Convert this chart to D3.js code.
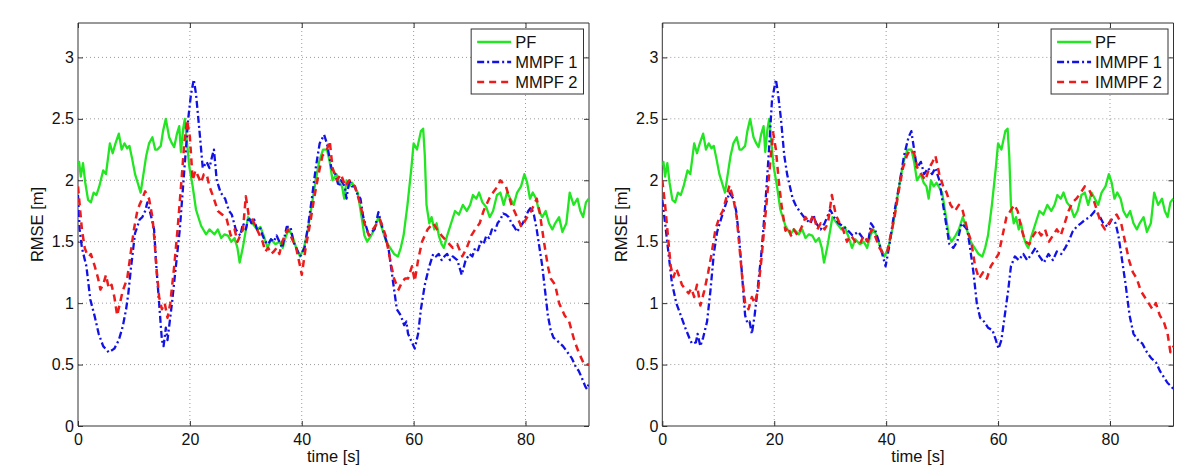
<!DOCTYPE html>
<html>
<head>
<meta charset="utf-8">
<script src="https://cdn.jsdelivr.net/npm/d3@7"></script>
<style>
  html, body { margin: 0; padding: 0; background: #fff; }
  svg { display: block; }
  text { font-family: "Liberation Sans", Arial, Helvetica, sans-serif; fill: #111; }
</style>
</head>
<body>
<svg id="chart" width="1200" height="476"></svg>
<script>
// ---------------- data (time [s], RMSE [m]) ----------------
const xTicks = [0, 20, 40, 60, 80];
const yTicks = [0, 0.5, 1, 1.5, 2, 2.5, 3];
const yTickLabels = ["0", "0.5", "1", "1.5", "2", "2.5", "3"];
const xLabel = "time [s]";
const yLabel = "RMSE [m]";
const leftLabels = ["PF", "MMPF 1", "MMPF 2"];
const rightLabels = ["PF", "IMMPF 1", "IMMPF 2"];

const pf = [[0,2.12],[0.2,2.15],[0.5,2.03],[0.9,2.14],[1.3,1.98],[1.8,1.84],[2.3,1.82],[2.8,1.9],[3.3,1.88],[3.8,1.95],[4.5,2.08],[5,2.05],[5.7,2.3],[6.2,2.22],[6.7,2.3],[7.3,2.38],[7.8,2.25],[8.3,2.3],[8.8,2.26],[9.2,2.28],[9.7,2.17],[10.2,2.05],[10.6,1.99],[11.2,1.9],[11.8,2.08],[12.2,2.2],[12.7,2.3],[13.3,2.35],[13.8,2.25],[14.2,2.25],[14.8,2.28],[15.2,2.4],[15.7,2.5],[16.3,2.35],[16.8,2.3],[17.2,2.27],[17.7,2.38],[18.1,2.44],[18.4,2.23],[18.8,2.42],[19.1,2.5],[19.5,2.3],[19.9,2.11],[20.5,1.95],[21.1,1.76],[22,1.63],[22.9,1.56],[23.5,1.6],[24.4,1.56],[25,1.6],[25.6,1.53],[26.2,1.56],[26.8,1.55],[27.4,1.5],[28,1.53],[28.5,1.45],[28.9,1.33],[29.5,1.46],[30.4,1.7],[31.2,1.65],[32,1.6],[32.6,1.62],[33.2,1.55],[33.9,1.45],[34.5,1.52],[35.3,1.48],[36,1.5],[36.6,1.45],[37.2,1.55],[37.7,1.6],[38.3,1.55],[39,1.45],[39.7,1.38],[40.4,1.45],[41.1,1.6],[41.8,1.8],[42.5,2.0],[43.1,2.15],[43.8,2.25],[44.5,2.25],[45,2.15],[45.5,2.0],[46.2,2.05],[46.7,1.98],[47.2,1.95],[47.6,1.85],[48,2.0],[48.5,1.95],[49,1.98],[50,1.9],[50.7,1.7],[51.2,1.55],[51.7,1.5],[52.4,1.55],[53,1.6],[53.7,1.7],[54.4,1.6],[55.1,1.5],[55.8,1.45],[56.5,1.4],[57.2,1.38],[57.7,1.45],[58.2,1.55],[58.9,1.8],[59.6,2.1],[60,2.3],[60.6,2.25],[61.3,2.4],[61.7,2.42],[62,2.2],[62.3,1.8],[62.8,1.65],[63.2,1.7],[63.7,1.6],[64.1,1.65],[64.5,1.55],[65,1.48],[65.4,1.45],[66,1.55],[66.7,1.65],[67.4,1.75],[68.1,1.72],[68.8,1.8],[69.5,1.75],[70.1,1.8],[70.6,1.88],[71.2,1.85],[71.7,1.9],[72.3,1.82],[73,1.78],[73.6,1.7],[74.2,1.75],[74.9,1.88],[75.5,1.9],[76.1,1.8],[76.7,1.9],[77.3,1.85],[77.9,1.8],[78.5,1.9],[79.2,1.95],[79.8,2.05],[80.3,1.98],[80.8,1.85],[81.3,1.9],[81.9,1.85],[82.4,1.75],[83,1.7],[83.6,1.75],[84.2,1.65],[84.8,1.6],[85.3,1.65],[86,1.7],[86.6,1.58],[87.3,1.65],[87.9,1.9],[88.6,1.8],[89.3,1.85],[89.8,1.75],[90.3,1.7],[90.8,1.82],[91.3,1.85]];

const mmpf1 = [[0,1.88],[0.3,1.6],[0.7,1.45],[1.5,1.3],[2.2,1.03],[3,0.89],[3.7,0.75],[4.5,0.65],[5.5,0.6],[6.5,0.63],[7.3,0.7],[8,0.81],[8.6,0.95],[9,1.08],[9.5,1.3],[10.2,1.57],[10.6,1.62],[11,1.68],[11.5,1.7],[12,1.75],[12.4,1.82],[13,1.72],[13.6,1.6],[14,1.3],[14.5,1.0],[15,0.7],[15.3,0.65],[15.7,0.8],[16,0.7],[16.4,0.85],[16.8,1.0],[17.5,1.3],[18.2,1.6],[18.7,1.9],[19.2,2.2],[19.7,2.5],[20.2,2.7],[20.7,2.82],[21.1,2.7],[21.7,2.41],[22.3,2.1],[23,2.15],[23.5,2.1],[24,2.2],[24.3,2.25],[24.8,2.0],[25.5,1.9],[26.3,1.85],[27,1.75],[27.5,1.72],[28.2,1.6],[29,1.55],[29.5,1.65],[30,1.6],[30.5,1.7],[31,1.65],[31.5,1.68],[32,1.6],[32.5,1.62],[33,1.55],[33.5,1.5],[34,1.48],[34.5,1.52],[35,1.5],[35.5,1.55],[36,1.5],[36.5,1.45],[37.3,1.62],[38,1.62],[38.5,1.5],[39,1.45],[39.7,1.38],[40.5,1.45],[41.2,1.65],[41.8,1.85],[42.5,2.1],[43.2,2.3],[44,2.37],[44.5,2.3],[45.3,2.1],[46,2.05],[46.6,1.95],[47,2.0],[47.7,1.95],[48,1.85],[48.5,2.0],[49,1.95],[49.5,1.95],[50,1.88],[50.5,1.85],[51,1.7],[52,1.55],[52.5,1.58],[53,1.6],[53.7,1.74],[54.5,1.6],[55.5,1.45],[56.3,1.18],[57,0.95],[57.7,0.9],[58.3,0.82],[58.7,0.85],[59,0.75],[59.7,0.68],[60.2,0.63],[60.8,0.75],[61.3,0.95],[62,1.15],[62.8,1.3],[63.5,1.4],[64,1.38],[64.5,1.4],[65,1.35],[65.5,1.38],[66,1.4],[66.5,1.35],[67,1.38],[67.8,1.35],[68.6,1.23],[69.3,1.35],[70,1.4],[70.5,1.38],[71,1.45],[71.5,1.43],[72,1.5],[72.5,1.48],[73,1.55],[73.5,1.53],[74,1.6],[74.5,1.58],[75,1.65],[75.5,1.68],[76,1.73],[76.5,1.72],[77,1.7],[77.5,1.65],[78,1.62],[78.5,1.58],[79,1.62],[79.5,1.65],[80,1.7],[80.5,1.75],[81,1.78],[81.5,1.72],[82,1.6],[82.5,1.45],[83,1.3],[83.5,1.1],[84,0.9],[84.5,0.78],[85,0.72],[85.5,0.7],[86,0.68],[86.7,0.65],[87.5,0.6],[88.3,0.55],[89,0.48],[89.5,0.45],[90,0.4],[90.7,0.32],[91,0.3],[91.35,0.35]];

const mmpf2 = [[0,1.95],[0.3,1.8],[0.7,1.6],[1.2,1.45],[1.6,1.4],[2,1.38],[2.3,1.4],[3,1.3],[3.6,1.2],[4,1.11],[4.5,1.15],[5,1.23],[5.5,1.12],[6,1.15],[6.5,1.05],[7,0.9],[7.5,1.0],[8,1.1],[8.8,1.2],[9.4,1.4],[10,1.6],[10.6,1.75],[11,1.8],[11.5,1.85],[12,1.91],[12.7,1.85],[13.3,1.7],[13.7,1.5],[14,1.3],[14.5,1.05],[15,0.95],[15.5,1.0],[16,0.88],[16.5,1.0],[17.2,1.3],[17.8,1.6],[18.5,2.0],[19,2.3],[19.5,2.49],[20,2.35],[20.5,2.0],[21,2.08],[21.3,2.05],[22,1.98],[22.5,2.05],[23,2.05],[23.5,1.95],[24.3,1.85],[25,1.75],[25.8,1.72],[26.5,1.7],[27.3,1.55],[28,1.6],[28.5,1.5],[29,1.55],[29.5,1.6],[30,1.87],[30.5,1.72],[31,1.7],[31.5,1.65],[32,1.6],[32.5,1.55],[33,1.5],[33.5,1.42],[34,1.45],[34.5,1.4],[35,1.42],[35.5,1.45],[36,1.4],[36.5,1.5],[37,1.55],[37.5,1.6],[38,1.55],[38.5,1.5],[39,1.45],[39.7,1.3],[40,1.23],[40.7,1.45],[41.5,1.65],[42.2,1.85],[43,2.05],[43.7,2.2],[44.5,2.25],[45,2.32],[45.5,2.1],[46.3,2.0],[47,2.05],[47.8,1.95],[48.5,2.0],[49.5,1.95],[50.5,1.8],[51.2,1.65],[52,1.55],[52.7,1.6],[53.5,1.65],[54,1.68],[55,1.55],[55.8,1.35],[56.5,1.2],[57.3,1.11],[58,1.18],[58.5,1.2],[59,1.2],[59.7,1.3],[60.2,1.18],[60.8,1.35],[61.5,1.5],[62.5,1.6],[63.5,1.65],[64.2,1.6],[65,1.55],[66,1.5],[67,1.45],[67.8,1.48],[68.7,1.38],[69.5,1.45],[70.3,1.55],[71,1.6],[71.8,1.65],[72.5,1.75],[73.5,1.85],[74.2,1.9],[75,1.95],[75.5,2.0],[76.5,1.95],[77.5,1.8],[78.5,1.7],[79.3,1.62],[80.3,1.7],[81,1.75],[82,1.85],[82.5,1.75],[83.3,1.5],[84,1.3],[84.5,1.2],[85.3,1.15],[86,1.0],[87,0.9],[87.8,0.85],[88.7,0.7],[89.5,0.6],[90.5,0.5],[91.35,0.5]];

const immpf1 = [[0,1.84],[0.5,1.65],[1,1.45],[1.7,1.17],[2.5,1.0],[3.3,0.9],[4.1,0.8],[4.8,0.72],[5.3,0.67],[6,0.68],[6.3,0.75],[6.8,0.65],[7.3,0.72],[8,0.85],[8.6,1.1],[9.2,1.4],[9.8,1.58],[10.6,1.7],[11.3,1.8],[12,1.9],[12.7,1.85],[13.2,1.75],[13.7,1.55],[14.3,1.2],[14.8,0.9],[15.2,0.84],[15.6,0.85],[16,0.75],[16.5,0.9],[17,1.1],[17.7,1.4],[18.4,1.8],[19,2.2],[19.6,2.65],[20.3,2.82],[20.7,2.7],[21.2,2.5],[21.8,2.2],[22.3,2.05],[22.8,1.95],[23.3,1.85],[23.8,1.8],[24.5,1.75],[25,1.72],[25.7,1.68],[26.5,1.65],[27,1.72],[27.5,1.65],[28.3,1.6],[29,1.65],[30,1.76],[30.7,1.7],[31.5,1.65],[32.5,1.62],[33,1.6],[34,1.55],[35,1.58],[36,1.52],[36.8,1.5],[37.3,1.65],[38,1.6],[38.7,1.5],[39.3,1.4],[39.9,1.3],[40.5,1.45],[41,1.6],[41.5,1.75],[42.3,1.95],[43.2,2.2],[44,2.35],[44.5,2.4],[45,2.25],[45.5,2.1],[46.2,2.15],[46.8,2.05],[47.5,2.1],[48.2,2.05],[48.8,2.1],[49.5,2.0],[50,1.85],[50.7,1.65],[51.3,1.48],[52,1.45],[52.7,1.5],[53.5,1.65],[54.5,1.6],[55,1.45],[55.6,1.25],[56.2,1.0],[56.8,0.88],[57.5,0.85],[58.2,0.8],[59,0.78],[59.6,0.7],[60.1,0.63],[60.6,0.7],[61.2,0.9],[61.8,1.1],[62.3,1.3],[63,1.38],[63.7,1.35],[64.5,1.4],[65.2,1.35],[66,1.4],[66.7,1.45],[67.4,1.38],[68.2,1.33],[69,1.4],[69.8,1.35],[70.5,1.42],[71.3,1.4],[72,1.45],[72.6,1.5],[73.3,1.58],[74,1.62],[74.8,1.65],[75.6,1.68],[76.4,1.7],[77.3,1.75],[78,1.72],[78.8,1.65],[79.6,1.62],[80.3,1.68],[81,1.65],[81.5,1.55],[82,1.4],[82.8,1.15],[83.5,0.9],[84.2,0.75],[85,0.7],[85.8,0.67],[86.6,0.6],[87.4,0.55],[88.2,0.52],[88.9,0.45],[89.6,0.4],[90.3,0.35],[91,0.32],[91.35,0.3]];

const immpf2 = [[0,2.0],[0.5,1.8],[1,1.55],[1.5,1.3],[2,1.21],[2.5,1.28],[3,1.22],[3.5,1.15],[4,1.12],[4.7,1.08],[5.2,1.12],[5.7,1.05],[6.2,1.15],[6.8,0.98],[7.5,1.1],[8.2,1.25],[8.8,1.4],[9.5,1.6],[10.2,1.7],[10.8,1.75],[11.4,1.85],[12,1.96],[12.7,1.85],[13.3,1.7],[13.8,1.45],[14.3,1.2],[14.8,1.0],[15.4,0.95],[16,1.05],[16.5,1.0],[17.1,1.1],[17.7,1.35],[18.3,1.65],[18.9,1.95],[19.4,2.2],[19.8,2.39],[20.3,2.25],[20.8,2.0],[21.3,1.8],[22,1.59],[22.5,1.62],[23,1.55],[23.5,1.6],[24.2,1.55],[24.9,1.62],[25.6,1.7],[26.3,1.65],[27,1.72],[27.7,1.6],[28.3,1.65],[29,1.6],[29.6,1.65],[30.3,1.88],[31,1.72],[31.7,1.65],[32.3,1.6],[33,1.5],[33.7,1.55],[34.5,1.5],[35.3,1.48],[36,1.55],[36.7,1.5],[37.4,1.6],[38,1.55],[38.8,1.45],[39.5,1.4],[40.2,1.42],[40.8,1.55],[41.5,1.7],[42.2,1.9],[43,2.1],[43.7,2.2],[44.3,2.25],[45,2.22],[45.6,2.1],[46.3,2.05],[47,2.0],[47.7,2.1],[48.3,2.15],[48.8,2.2],[49.5,2.05],[50.2,1.95],[50.8,1.9],[51.5,1.8],[52.3,1.75],[53,1.8],[53.7,1.75],[54.5,1.6],[55.2,1.5],[55.9,1.3],[56.6,1.2],[57.3,1.25],[58,1.2],[58.7,1.3],[59.4,1.35],[60.1,1.4],[60.8,1.55],[61.5,1.7],[62.2,1.75],[62.9,1.8],[63.5,1.75],[64.2,1.6],[64.9,1.5],[65.6,1.48],[66.3,1.55],[67,1.6],[67.7,1.55],[68.4,1.6],[69.1,1.5],[69.8,1.55],[70.5,1.6],[71.2,1.55],[71.9,1.65],[72.6,1.75],[73.3,1.82],[74,1.85],[74.8,1.9],[75.5,1.95],[76.3,1.92],[77,1.85],[77.7,1.75],[78.4,1.65],[79.1,1.6],[79.8,1.65],[80.5,1.7],[81.2,1.72],[82,1.65],[82.7,1.5],[83.4,1.35],[84.1,1.25],[84.8,1.2],[85.5,1.1],[86.2,1.05],[86.9,1.0],[87.6,0.95],[88.2,1.0],[88.9,0.9],[89.6,0.85],[90.3,0.75],[90.8,0.6],[91.35,0.65]];

// ---------------- drawing ----------------
const colors = ["#22e622", "#1212e6", "#ec1c1c"];
const dashes = [null, "7,3,2,3", "7,5"];
const widths = [2.3, 2.3, 2.5];
const svg = d3.select("#chart");

function drawPanel(left, right, seriesList, labels, id) {
  const top = 23, bottom = 426;
  const x = d3.scaleLinear().domain([0, 91.35]).range([left, right]);
  const y = d3.scaleLinear().domain([0, 3.28]).range([bottom, top]);
  const g = svg.append("g");

  g.append("clipPath").attr("id", "clip" + id)
    .append("rect").attr("x", left).attr("y", top).attr("width", right - left).attr("height", bottom - top);

  // grid
  g.selectAll(".vg").data(xTicks.filter(d => d > 0)).enter().append("line")
    .attr("x1", d => x(d)).attr("x2", d => x(d)).attr("y1", top).attr("y2", bottom)
    .attr("stroke", "#9a9a9a").attr("stroke-width", 1).attr("stroke-dasharray", "1,3");
  g.selectAll(".hg").data(yTicks.filter(d => d > 0)).enter().append("line")
    .attr("x1", left).attr("x2", right).attr("y1", d => y(d)).attr("y2", d => y(d))
    .attr("stroke", "#9a9a9a").attr("stroke-width", 1).attr("stroke-dasharray", "1,3");

  // axes (ticks inward, mirrored on top/right)
  const axB = d3.axisBottom(x).tickValues(xTicks).tickSize(-5).tickPadding(8).tickFormat(d3.format("d"));
  const axT = d3.axisTop(x).tickValues(xTicks).tickSize(-5).tickFormat("");
  const axL = d3.axisLeft(y).tickValues(yTicks).tickSize(-5).tickPadding(4).tickFormat((d, i) => yTickLabels[i]);
  const axR = d3.axisRight(y).tickValues(yTicks).tickSize(-5).tickFormat("");
  const style = sel => {
    sel.selectAll("path").attr("stroke", "#333").attr("stroke-width", 1);
    sel.selectAll("line").attr("stroke", "#333");
    sel.selectAll("text").attr("font-family", '"Liberation Sans", Arial, sans-serif').attr("font-size", 16).attr("fill", "#111");
  };
  g.append("g").attr("transform", `translate(0,${bottom})`).call(axB).call(style).call(s => s.selectAll("path").attr("d", `M${left},0H${right}`));
  g.append("g").attr("transform", `translate(0,${top})`).call(axT).call(style).call(s => s.selectAll("path").attr("d", `M${left},0H${right}`));
  g.append("g").attr("transform", `translate(${left},0)`).call(axL).call(style).call(s => s.selectAll("path").attr("d", `M0,${top}V${bottom}`));
  g.append("g").attr("transform", `translate(${right},0)`).call(axR).call(style).call(s => s.selectAll("path").attr("d", `M0,${top}V${bottom}`));

  // lines
  const line = d3.line().x(d => x(d[0])).y(d => y(d[1]));
  const lg = g.append("g").attr("clip-path", `url(#clip${id})`);
  seriesList.forEach((s, i) => {
    lg.append("path").datum(s).attr("d", line).attr("fill", "none")
      .attr("stroke", colors[i]).attr("stroke-width", widths[i])
      .attr("stroke-linejoin", "round")
      .attr("stroke-dasharray", dashes[i]);
  });

  // axis labels
  g.append("text").attr("x", (left + right) / 2).attr("y", 462).attr("text-anchor", "middle")
    .attr("font-size", 16.5).text(xLabel);
  g.append("text").attr("transform", `translate(${left - 35},${(top + bottom) / 2}) rotate(-90)`)
    .attr("text-anchor", "middle").attr("font-size", 16.5).text(yLabel);

  // legend
  const leg = g.append("g");
  const txt = leg.selectAll("text").data(labels).enter().append("text")
    .attr("y", (d, i) => 42 + i * 20).attr("dy", "0.35em").attr("font-size", 16.5).text(d => d);
  const maxW = d3.max(txt.nodes(), n => n.getComputedTextLength());
  const bw = 44 + maxW + 6;
  const bx = right - 5.5 - bw;
  leg.insert("rect", "text").attr("x", bx).attr("y", 29).attr("width", bw).attr("height", 65)
    .attr("fill", "#fff").attr("stroke", "#333").attr("stroke-width", 1);
  txt.attr("x", bx + 44);
  labels.forEach((l, i) => {
    leg.append("line").attr("x1", bx + 6).attr("x2", bx + 40)
      .attr("y1", 42 + i * 20).attr("y2", 42 + i * 20)
      .attr("stroke", colors[i]).attr("stroke-width", widths[i]).attr("stroke-dasharray", dashes[i]);
  });
}

drawPanel(78, 589, [pf, mmpf1, mmpf2], leftLabels, "L");
drawPanel(662.3, 1173.5, [pf, immpf1, immpf2], rightLabels, "R");
</script>
</body>
</html>
